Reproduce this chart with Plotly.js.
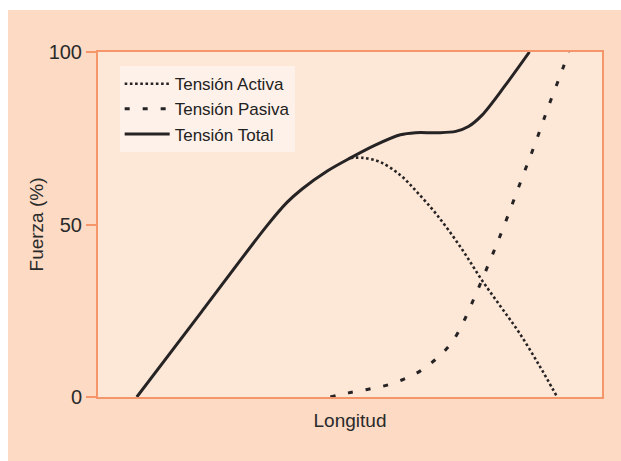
<!DOCTYPE html>
<html>
<head>
<meta charset="utf-8">
<script src="https://cdn.plot.ly/plotly-3.0.1.min.js"></script>
<style>
  html, body { margin: 0; padding: 0; background: #ffffff; }
  #chart { position: absolute; left: 8px; top: 10px; width: 613px; height: 451px; }
</style>
</head>
<body>
<div id="chart"></div>
<script>
// Series names
const seriesNames = ["Tensión Activa", "Tensión Pasiva", "Tensión Total"];

// Tensión Total (solid)
const totalX = [7.7, 20.5, 33.5, 37.5, 40.5, 45.5, 50.1, 55.0, 60.0, 63.0, 67.3, 71.0, 73.5, 76.2, 80.8, 85.6];
const totalY = [0, 24.6, 49.6, 56.4, 60.3, 65.5, 69.3, 73.0, 76.0, 76.6, 76.6, 77.0, 78.4, 81.7, 90.3, 100];

// Tensión Activa (dotted)
const activeX = [50.1, 52.7, 56.0, 60.0, 63.3, 67.3, 72.0, 76.2, 80.0, 83.5, 87.5, 91.1];
const activeY = [69.3, 69.3, 68.1, 64.3, 59.4, 52.7, 43.3, 33.8, 26.0, 18.8, 9.3, 0];

// Tensión Pasiva (dashed)
const passiveX = [46.1, 49.7, 53.4, 57.0, 60.6, 63.9, 66.9, 69.6, 71.6, 74.7, 77.6, 80.4, 84.3, 86.9, 89.4, 92.1, 93.4];
const passiveY = [0, 1.2, 2.2, 3.3, 5.1, 7.5, 10.8, 14.7, 19.1, 28.9, 38.9, 49.0, 64.1, 74.1, 84.3, 94.7, 100];

// Axis ticks
const yTickVals = [0, 50, 100];
const yTickText = ["0", "50", "100"];

const ink = "#262324";
const orange = "#f5966a";
const fontFam = "'Liberation Sans', Arial, sans-serif";

const traces = [
  { x: activeX, y: activeY, name: seriesNames[0], mode: "lines",
    line: { color: ink, width: 2.6, dash: "2.6px,2.6px", shape: "spline", smoothing: 1 } },
  { x: passiveX, y: passiveY, name: seriesNames[1], mode: "lines",
    line: { color: ink, width: 3, dash: "5px,13px", shape: "spline", smoothing: 1 } },
  { x: totalX, y: totalY, name: seriesNames[2], mode: "lines",
    line: { color: ink, width: 3, shape: "spline", smoothing: 0.9 } }
];

const layout = {
  width: 613, height: 451,
  margin: { l: 90, r: 19, t: 42, b: 64, pad: 0 },
  paper_bgcolor: "#fcdac4",
  plot_bgcolor: "#fde7d7",
  font: { family: fontFam, color: "#2a2a2a" },
  showlegend: true,
  legend: {
    x: 0.043, y: 0.959, xanchor: "left", yanchor: "top",
    bgcolor: "#fef1e9", borderwidth: 0,
    font: { size: 17, color: "#222", family: fontFam },
    itemwidth: 45, traceorder: "normal"
  },
  xaxis: {
    range: [0, 100], showticklabels: false, ticks: "", showgrid: false, zeroline: false,
    showline: true, linecolor: orange, linewidth: 2, mirror: true,
    title: { text: "Longitud", font: { size: 19, color: "#2a2a2a" }, standoff: 16 }
  },
  yaxis: {
    range: [0, 100], tickvals: yTickVals, ticktext: yTickText,
    ticks: "outside", ticklen: 10, tickwidth: 2, tickcolor: orange,
    tickfont: { size: 20, color: "#2a2a2a" },
    showgrid: false, zeroline: false,
    showline: true, linecolor: orange, linewidth: 2, mirror: true,
    title: { text: "Fuerza (%)", font: { size: 19, color: "#2a2a2a" }, standoff: 0 }
  }
};

Plotly.newPlot("chart", traces, layout, { displayModeBar: false, staticPlot: true });
</script>
</body>
</html>
